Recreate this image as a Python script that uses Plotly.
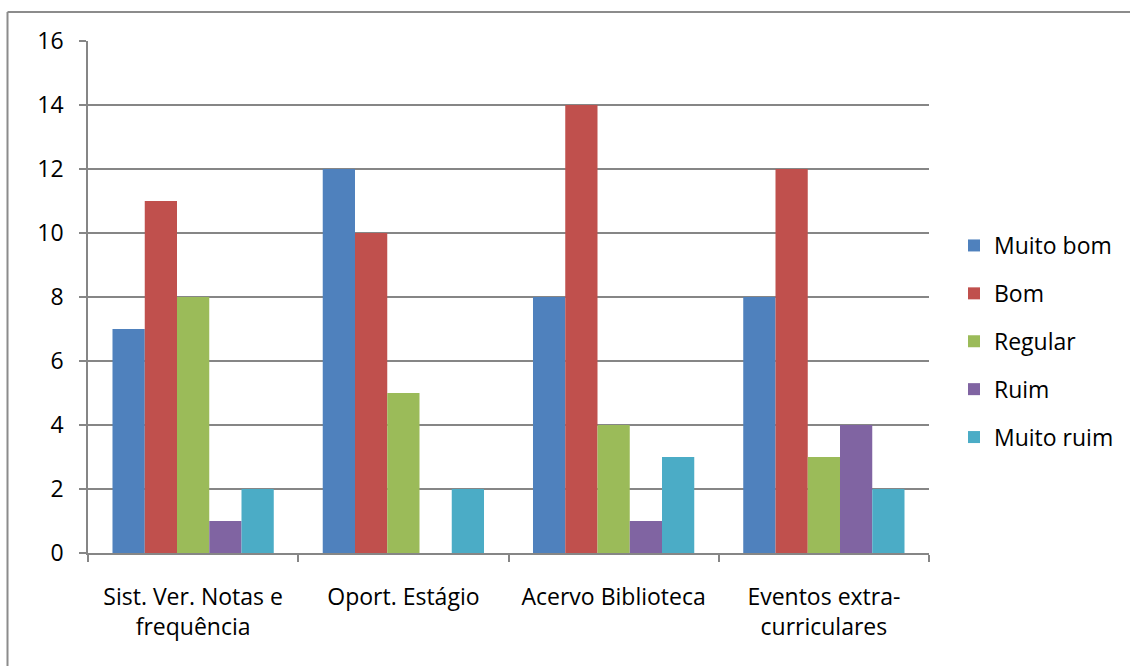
import plotly.graph_objects as go

categories = ["Sist. Ver. Notas e<br>frequência", "Oport. Estágio", "Acervo Biblioteca", "Eventos extra-<br>curriculares"]
series_names = ["Muito bom", "Bom", "Regular", "Ruim", "Muito ruim"]
muito_bom = [7, 12, 8, 8]
bom = [11, 10, 14, 12]
regular = [8, 5, 4, 3]
ruim = [1, 0, 1, 4]
muito_ruim = [2, 2, 3, 2]
colors = ["#4F81BD", "#C0504D", "#9BBB59", "#8064A2", "#4BACC6"]
y_ticks = [0, 2, 4, 6, 8, 10, 12, 14, 16]

series = [muito_bom, bom, regular, ruim, muito_ruim]

W, H = 1130, 666
# target screen coordinates of the plot area
X0, X1, Y0, Y1 = 88, 929, 41, 553
ML, MT = X0, Y0
pw, ph = X1 - X0, Y1 - Y0
MR, MB = W - ML - pw, H - MT - ph


def px(x):
    return (x - X0) / pw


def py(y):
    return (Y1 - y) / ph


fig = go.Figure()
for name, vals, col in zip(series_names, series, colors):
    fig.add_trace(go.Bar(x=categories, y=vals, name=name, marker=dict(color=col, line=dict(width=0)),
                         legendgroup=name))

font = dict(family="Open Sans", size=23, color="#000000")
grid = "#868686"
border = dict(color="#8C8C8C", width=2)

fig.update_layout(
    width=W, height=H,
    margin=dict(l=ML, r=MR, t=MT, b=MB, autoexpand=False),
    paper_bgcolor="white", plot_bgcolor="white",
    font=font,
    barmode="group", bargap=0.233, bargroupgap=0,
    showlegend=True,
    legend=dict(x=px(954), y=py(224), xanchor="left", yanchor="top",
                font=font, tracegroupgap=15, bgcolor="rgba(0,0,0,0)"),
    xaxis=dict(showline=True, linecolor=grid, linewidth=1.5, ticks="outside", tickson="boundaries",
               ticklen=7, tickcolor=grid, tickwidth=1.5, showgrid=False, tickfont=font,
               ticklabelstandoff=23),
    yaxis=dict(range=[0, 16], tickvals=y_ticks, showline=True, linecolor=grid, linewidth=1.5,
               ticks="outside", ticklen=7, tickcolor=grid, tickwidth=1.5, showgrid=True,
               gridcolor=grid, gridwidth=1.5, zeroline=False, tickfont=font, ticklabelstandoff=11),
    shapes=[
        dict(type="line", xref="paper", yref="paper", x0=px(7.5), x1=px(W + 300),
             y0=py(12), y1=py(12), line=border, layer="below"),
        dict(type="line", xref="paper", yref="paper", x0=px(7.5), x1=px(7.5),
             y0=py(12), y1=py(H + 300), line=border, layer="below"),
    ],
)

fig.write_html(
    "out.html",
    config={"displayModeBar": False},
    post_script="document.body.style.margin='0';document.body.style.overflow='hidden';",
)
